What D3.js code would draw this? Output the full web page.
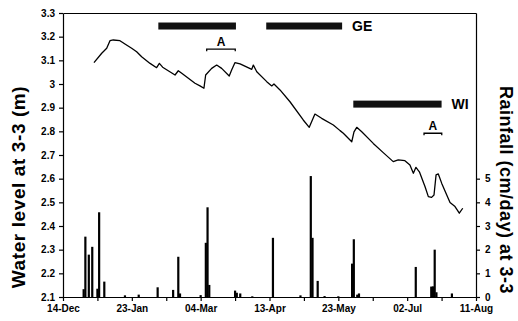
<!DOCTYPE html>
<html><head><meta charset="utf-8">
<script src="https://cdn.jsdelivr.net/npm/d3@7"></script>
<style>
html,body{margin:0;padding:0;background:#fff;}
svg{display:block;font-family:"Liberation Sans",Arial,Helvetica,sans-serif;font-weight:bold;}
</style></head><body>
<svg id="chart" width="518" height="321"></svg>
<script>
// ---- data ----
// days counted from 14-Dec
const xTickDays = [0,20,40,60,80,100,120,140,160,180,200,220,240];
const xTickLabels = ["14-Dec","","23-Jan","","04-Mar","","13-Apr","","23-May","","02-Jul","","11-Aug"];
const levelTicks = [2.1,2.2,2.3,2.4,2.5,2.6,2.7,2.8,2.9,3.0,3.1,3.2,3.3];
const levelTickLabels = ["2.1","2.2","2.3","2.4","2.5","2.6","2.7","2.8","2.9","3","3.1","3.2","3.3"];
const rainTicks = [0,1,2,3,4,5];
const rainTickLabels = ["0","1","2","3","4","5"];

const levelDays = [18.0,22.5,25.4,27.3,29.2,33.1,36.0,39.9,42.8,45.7,50.6,54.4,56.0,57.9,65.1,67.0,69.0,76.7,79.6,81.9,82.9,86.4,89.3,92.2,96.6,98.0,99.9,102.9,109.7,110.6,112.6,118.4,121.3,122.6,126.1,131.9,139.6,143.1,146.4,150.3,157.1,161.0,162.9,167.8,169.1,170.7,173.6,180.3,186.1,191.9,194.8,198.7,201.6,203.6,205.1,207.1,210.4,212.3,214.2,215.6,216.8,218.1,220.1,223.0,224.9,227.8,230.3,232.3];
const levelValues = [3.090,3.130,3.151,3.183,3.186,3.183,3.169,3.151,3.136,3.115,3.087,3.069,3.087,3.071,3.038,3.056,3.045,3.003,2.992,2.982,3.038,3.066,3.080,3.066,3.034,3.059,3.090,3.085,3.062,3.080,3.052,3.010,2.992,3.000,2.975,2.925,2.848,2.817,2.873,2.855,2.827,2.803,2.792,2.756,2.798,2.817,2.798,2.749,2.710,2.672,2.679,2.676,2.658,2.623,2.648,2.629,2.566,2.524,2.521,2.531,2.616,2.620,2.580,2.531,2.499,2.482,2.454,2.475];

const rainDays = [12,13,15,17,20,21,24,36,44,55,64,67,68,80,83,84,85,100,101,103,110,122,138,144,145,148,152,160,168,169,171,172,205,214,215,216,217,226];
const rainValues = [0.33,2.55,1.79,2.12,0.35,3.58,0.65,0.07,0.1,0.41,0.3,1.7,0.15,0.08,2.29,3.79,0.51,0.27,0.18,0.15,0.03,2.5,0.07,5.11,2.5,0.68,0.04,0.03,1.41,2.44,0.1,0.15,1.27,0.44,0.45,2.0,0.2,0.15];

// period bars: start day, end day, level, label
const periodStart = [55.4,118.1,168.7];
const periodEnd = [100.5,162.2,220.0];
const periodLevel = [3.245,3.245,2.915];
const periodLabels = ["","GE","WI"];
// "A" brackets
const bracketStart = [83.5,209.8];
const bracketEnd = [100.1,220.1];
const bracketLevel = [3.147,2.792];
const bracketLabels = ["A","A"];

// ---- chart ----
const svg = d3.select("#chart");
const L = 63, R = 476, T = 13, B = 297;
const x = d3.scaleLinear().domain([0,240]).range([L,R]);
const y = d3.scaleLinear().domain([2.1,3.3]).range([B,T]);
const yR = d3.scaleLinear().domain([0,5]).range([B, y(2.6)]);

// rainfall bars
svg.append("g").selectAll("rect").data(rainDays).join("rect")
  .attr("x", d => x(d) - 1.1)
  .attr("width", 2.2)
  .attr("y", (d,i) => yR(rainValues[i]))
  .attr("height", (d,i) => B - yR(rainValues[i]))
  .attr("fill", "#000");

// water level line
const pts = levelDays.map((d,i) => [d, levelValues[i]]);
svg.append("path").datum(pts)
  .attr("fill","none").attr("stroke","#000").attr("stroke-width",1.3)
  .attr("stroke-linejoin","round")
  .attr("d", d3.line().x(d => x(d[0])).y(d => y(d[1])));

// period bars
periodStart.forEach((s,i) => {
  svg.append("rect")
    .attr("x", x(s)).attr("width", x(periodEnd[i]) - x(s))
    .attr("y", y(periodLevel[i]) - 3.5).attr("height", 7)
    .attr("fill", "#111");
  if (periodLabels[i]) {
    svg.append("text").attr("x", x(periodEnd[i]) + 10).attr("y", y(periodLevel[i]) + 5)
      .attr("font-size", 14).text(periodLabels[i]);
  }
});
// brackets
bracketStart.forEach((s,i) => {
  const yy = y(bracketLevel[i]);
  svg.append("path")
    .attr("d", `M${x(s)},${yy+2}V${yy}H${x(bracketEnd[i])}V${yy+2}`)
    .attr("fill","none").attr("stroke","#000").attr("stroke-width",1.3);
  svg.append("text").attr("x", (x(s)+x(bracketEnd[i]))/2).attr("y", yy - 3)
    .attr("text-anchor","middle").attr("font-size", 12).text(bracketLabels[i]);
});

// axes
const styleAxis = g => {
  g.selectAll("path,line").attr("stroke","#000").attr("stroke-width",1.2);
  g.selectAll("text").attr("font-family",'"Liberation Sans",Arial,sans-serif').attr("font-weight","bold").attr("fill","#000");
};
svg.append("g").attr("transform",`translate(0,${B})`)
  .call(d3.axisBottom(x).tickValues(xTickDays).tickFormat((d,i) => xTickLabels[i]).tickSize(4).tickSizeOuter(0).tickPadding(4))
  .call(styleAxis).selectAll("text").attr("font-size", 10);
svg.append("g").attr("transform",`translate(0,${T})`)
  .call(d3.axisTop(x).tickValues([]).tickSizeOuter(0)).call(styleAxis);
svg.append("g").attr("transform",`translate(${L},0)`)
  .call(d3.axisLeft(y).tickValues(levelTicks).tickFormat((d,i) => levelTickLabels[i]).tickSize(4).tickSizeOuter(0).tickPadding(4))
  .call(styleAxis).selectAll("text").attr("font-size", 10);
svg.append("g").attr("transform",`translate(${R},0)`)
  .call(d3.axisRight(y).tickValues([]).tickSizeOuter(0)).call(styleAxis);
svg.append("g").attr("transform",`translate(${R},0)`)
  .call(d3.axisRight(yR).tickValues(rainTicks).tickFormat((d,i) => rainTickLabels[i]).tickSize(4).tickSizeOuter(0).tickPadding(5))
  .call(g => g.select(".domain").remove())
  .call(styleAxis).selectAll("text").attr("font-size", 10);

// axis titles
svg.append("text").attr("transform", `translate(25,187) rotate(-90)`)
  .attr("text-anchor","middle").attr("font-size",19).attr("letter-spacing",0.6).text("Water level at 3-3 (m)");
svg.append("text").attr("transform", `translate(500,190) rotate(90)`)
  .attr("text-anchor","middle").attr("font-size",18).attr("letter-spacing",0.5).text("Rainfall (cm/day) at 3-3");
</script>
</body></html>
